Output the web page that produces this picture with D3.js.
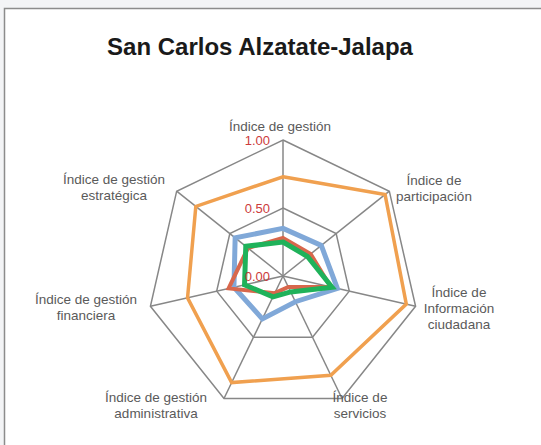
<!DOCTYPE html>
<html>
<head>
<meta charset="utf-8">
<script src="https://cdn.jsdelivr.net/npm/d3@7"></script>
<style>
  html, body { margin: 0; padding: 0; background: #f3f4f6; }
  svg { display: block; }
</style>
</head>
<body>
<svg id="chart"></svg>
<script>
// chart data
const title = 'San Carlos Alzatate-Jalapa';
const categories = [
  ['Índice de gestión'],
  ['Índice de', 'participación'],
  ['Índice de', 'Información', 'ciudadana'],
  ['Índice de', 'servicios'],
  ['Índice de gestión', 'administrativa'],
  ['Índice de gestión', 'financiera'],
  ['Índice de gestión', 'estratégica']
];
const serieNaranja = [0.73, 0.96, 0.93, 0.81, 0.87, 0.72, 0.82];
const serieAzul = [0.35, 0.36, 0.41, 0.21, 0.35, 0.37, 0.45];
const serieRoja = [0.28, 0.26, 0.36, 0.09, 0.14, 0.41, 0.33];
const serieVerde = [0.25, 0.23, 0.37, 0.13, 0.17, 0.29, 0.35];
const tickValues = [0, 0.5, 1];

const width = 541, height = 445;
const cx = 283, cy = 276, radius = 136;

const svg = d3.select('#chart')
  .attr('width', width)
  .attr('height', height);

// chart area box
svg.append('rect')
  .attr('x', 4.5)
  .attr('y', 8.5)
  .attr('width', width + 10)
  .attr('height', height + 10)
  .attr('fill', '#ffffff')
  .attr('stroke', '#8c8c8c')
  .attr('stroke-width', 1.5);

svg.append('text')
  .attr('x', 260)
  .attr('y', 55)
  .attr('text-anchor', 'middle')
  .attr('font-family', 'Liberation Sans, Arial, sans-serif')
  .attr('font-weight', 'bold')
  .attr('font-size', '24px')
  .attr('fill', '#1a1a1a')
  .text(title);

const n = categories.length;
const angle = d3.scaleLinear().domain([0, n]).range([0, 2 * Math.PI]);
const r = d3.scaleLinear().domain([0, 1]).range([0, radius]);

const g = svg.append('g').attr('transform', `translate(${cx},${cy})`);

const pt = (i, v) => [Math.sin(angle(i)) * r(v), -Math.cos(angle(i)) * r(v)];

// grid rings
tickValues.filter(t => t > 0).forEach(t => {
  g.append('path')
    .attr('d', d3.line()(d3.range(n).map(i => pt(i, t))) + 'Z')
    .attr('fill', 'none')
    .attr('stroke', '#878787')
    .attr('stroke-width', 1.5);
});

// spokes
g.selectAll('line.spoke')
  .data(d3.range(n))
  .enter()
  .append('line')
  .attr('class', 'spoke')
  .attr('x1', 0)
  .attr('y1', 0)
  .attr('x2', i => pt(i, 1)[0])
  .attr('y2', i => pt(i, 1)[1])
  .attr('stroke', '#878787')
  .attr('stroke-width', 1.5);

// series
const series = [
  { values: serieNaranja, color: '#f0a04f', w: 3.5 },
  { values: serieAzul, color: '#80a8d8', w: 5 },
  { values: serieRoja, color: '#d8674c', w: 4 },
  { values: serieVerde, color: '#1fb25a', w: 5 }
];

const radial = d3.lineRadial()
  .angle((d, i) => angle(i))
  .radius(d => r(d))
  .curve(d3.curveLinearClosed);

g.selectAll('path.serie')
  .data(series)
  .enter()
  .append('path')
  .attr('class', 'serie')
  .attr('d', d => radial(d.values))
  .attr('fill', 'none')
  .attr('stroke', d => d.color)
  .attr('stroke-width', d => d.w)
  .attr('stroke-linejoin', 'miter');

// tick labels
g.selectAll('text.tick')
  .data(tickValues)
  .enter()
  .append('text')
  .attr('class', 'tick')
  .attr('x', -13)
  .attr('y', d => -r(d) + 5)
  .attr('text-anchor', 'end')
  .attr('font-family', 'Liberation Sans, Arial, sans-serif')
  .attr('font-size', '13px')
  .attr('fill', '#cc3b3b')
  .text(d => d3.format('.2f')(d));

// category labels: [x, y of first baseline] relative to image
const labelPos = [
  [280, 131], [434, 185], [459, 297], [360, 402],
  [156, 402], [86, 304], [114, 184]
];

categories.forEach((lines, i) => {
  const t = svg.append('text')
    .attr('text-anchor', 'middle')
    .attr('font-family', 'Liberation Sans, Arial, sans-serif')
    .attr('font-size', '13.5px')
    .attr('fill', '#5a5a5a');
  lines.forEach((s, k) => {
    t.append('tspan')
      .attr('x', labelPos[i][0])
      .attr('y', labelPos[i][1] + k * 15.8)
      .text(s);
  });
});
</script>
</body>
</html>
